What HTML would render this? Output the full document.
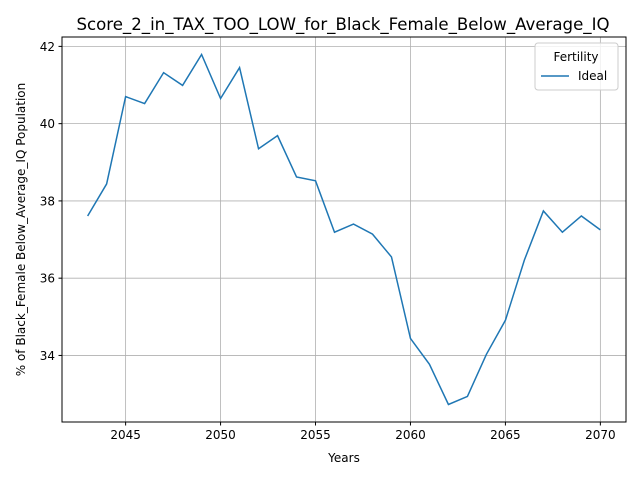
<!DOCTYPE html>
<html><head><meta charset="utf-8"><style>
body{margin:0;background:#fff}
svg{font-family:"DejaVu Sans","Liberation Sans",sans-serif}
</style></head><body>
<svg id="chart" width="640" height="480" viewBox="0 0 640 480">
<rect width="640" height="480" fill="#fff"/>
<text x="343" y="30" text-anchor="middle" font-size="16.6">Score_2_in_TAX_TOO_LOW_for_Black_Female_Below_Average_IQ</text>
<g id="grid"></g>
<g id="axes"></g>
<path id="line" fill="none" stroke="#1f77b4" stroke-width="1.5"/>
<rect x="62" y="37" width="564" height="385" fill="none" stroke="#000" stroke-width="1"/>
<text x="344" y="462" text-anchor="middle" font-size="12">Years</text>
<text transform="translate(25,229.5) rotate(-90)" text-anchor="middle" font-size="12">% of Black_Female Below_Average_IQ Population</text>
<g>
<rect x="535" y="43" width="83" height="47" rx="3" fill="#fff" fill-opacity="0.8" stroke="#ccc"/>
<text x="576" y="61" text-anchor="middle" font-size="12">Fertility</text>
<line x1="541" y1="76" x2="569" y2="76" stroke="#1f77b4" stroke-width="1.5"/>
<text x="578" y="80" font-size="12">Ideal</text>
</g>
</svg>
<script>
const years=[2043,2044,2045,2046,2047,2048,2049,2050,2051,2052,2053,2054,2055,2056,2057,2058,2059,2060,2061,2062,2063,2064,2065,2066,2067,2068,2069,2070];
const values=[37.61,38.44,40.70,40.52,41.32,40.99,41.79,40.65,41.45,39.35,39.69,38.62,38.52,37.19,37.40,37.14,36.55,34.44,33.77,32.73,32.94,34.03,34.91,36.47,37.74,37.19,37.61,37.25];
const xTicks=[2045,2050,2055,2060,2065,2070];
const yTicks=[34,36,38,40,42];
const L=62,R=626,T=37,B=422;
const xmin=2041.65,xmax=2071.35,ymin=32.277,ymax=42.243;
const sx=v=>L+(v-xmin)/(xmax-xmin)*(R-L);
const sy=v=>B-(v-ymin)/(ymax-ymin)*(B-T);
const NS="http://www.w3.org/2000/svg";
const grid=document.getElementById('grid'),axes=document.getElementById('axes');
function mk(tag,attrs,parent){const e=document.createElementNS(NS,tag);for(const k in attrs)e.setAttribute(k,attrs[k]);parent.appendChild(e);return e;}
xTicks.forEach(t=>{const x=sx(t);
const g=mk('line',{x1:x,x2:x,y1:T,y2:B,stroke:'#b0b0b0','stroke-width':0.8},grid);


mk('line',{x1:x,x2:x,y1:B,y2:B+3.5,stroke:'#000'},axes);
const tx=mk('text',{x:x,y:B+17,'text-anchor':'middle','font-size':12},axes);tx.textContent=t;

});
yTicks.forEach(t=>{const y=sy(t);
const g=mk('line',{x1:L,x2:R,y1:y,y2:y,stroke:'#b0b0b0','stroke-width':0.8},grid);


mk('line',{x1:L-3.5,x2:L,y1:y,y2:y,stroke:'#000'},axes);
const tx=mk('text',{x:L-7,y:y+4.5,'text-anchor':'end','font-size':12},axes);tx.textContent=t;

});
document.getElementById('line').setAttribute('d',years.map((yr,i)=>(i?'L':'M')+sx(yr).toFixed(2)+','+sy(values[i]).toFixed(2)).join(''));
</script>
</body></html>
